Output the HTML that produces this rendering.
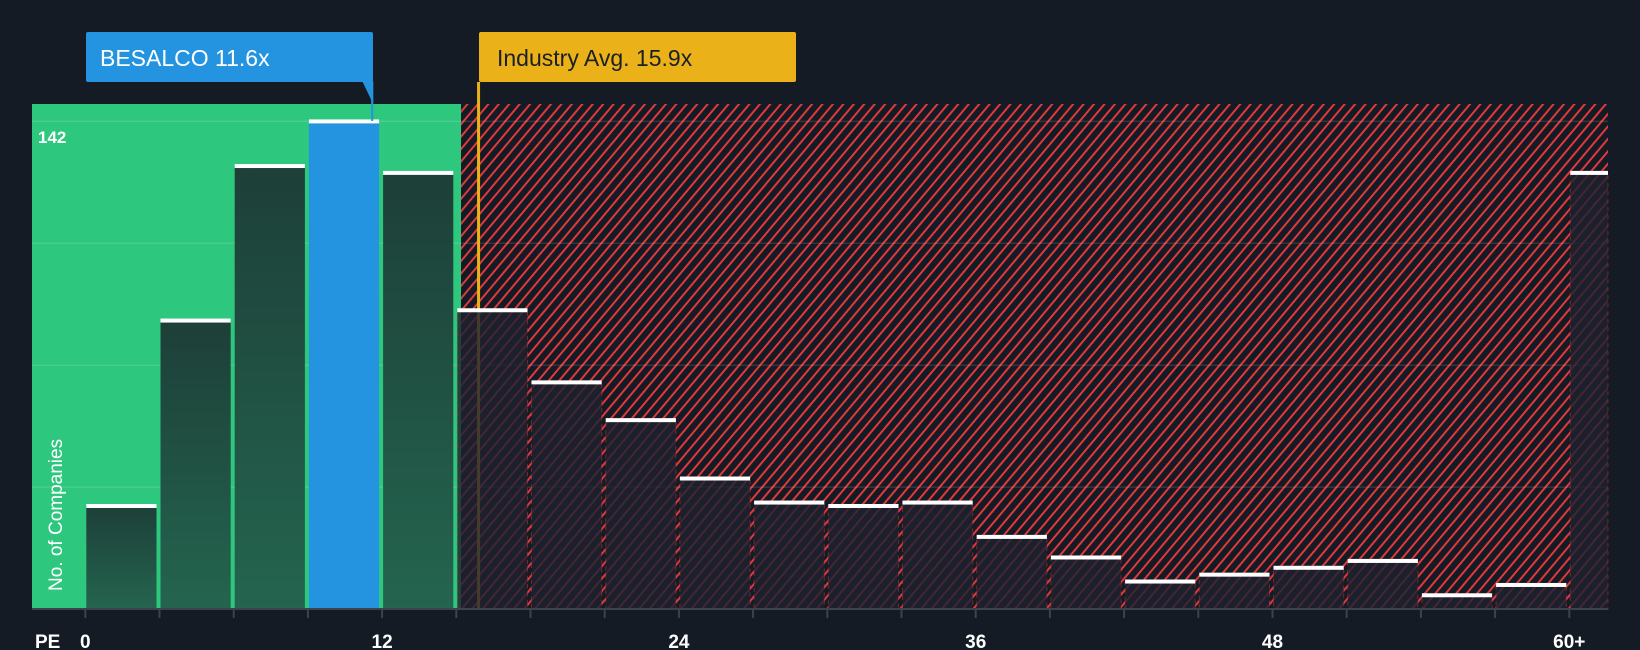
<!DOCTYPE html>
<html><head><meta charset="utf-8"><style>
body{margin:0;background:#151b24;}
svg{display:block;font-family:"Liberation Sans",sans-serif;}
</style></head><body>
<svg id="chart" width="1640" height="650" viewBox="0 0 1640 650">
<defs>
<pattern id="hatch" patternUnits="userSpaceOnUse" width="8" height="8" patternTransform="rotate(40)">
<rect width="8" height="8" fill="#151b24"/>
<rect x="0" y="0" width="2" height="8" fill="#e0383d"/>
</pattern>
<linearGradient id="gbar" x1="0" y1="0" x2="0" y2="1">
<stop offset="0" stop-color="#1d3f38"/><stop offset="1" stop-color="#24654f"/>
</linearGradient>
</defs>
<rect width="1640" height="650" fill="#151b24"/>
<rect x="32" y="104" width="429" height="505" fill="#2ec77e"/>
<rect x="461" y="104" width="1147" height="505" fill="url(#hatch)"/>
<g id="grid"></g>
<line id="indLine" y1="82" y2="609" stroke="#eab218" stroke-width="3"/>
<g id="bars"></g>
<line x1="32" y1="609" x2="1608" y2="609" stroke="#3b4350" stroke-width="2"/>
<g id="ticks"></g>
<text x="38" y="143" fill="#fff" font-size="17" font-weight="bold">142</text>
<text transform="translate(62,591) rotate(-90)" fill="#fff" font-size="19">No. of Companies</text>
<text x="35" y="648" fill="#fff" font-size="19" font-weight="bold">PE</text>
<g>
<rect x="86" y="32" width="287" height="50" rx="2" fill="#2493e0"/>
<path id="bpath" d="" fill="#2493e0"/>
<line id="bline" y1="82" y2="121" stroke="#2493e0" stroke-width="2"/>
<text x="100" y="66" fill="#fff" font-size="23">BESALCO 11.6x</text>
</g>
<g>
<rect x="479" y="32" width="317" height="50" rx="2" fill="#eab218"/>
<text x="497" y="66" fill="#1b1f26" font-size="23">Industry Avg. 15.9x</text>
</g>
</svg>
<script>
const counts=[30,84,129,142,127,87,66,55,38,31,30,31,21,15,8,10,12,14,4,7,127];
const tickLabels=["0","12","24","36","48","60+"];
const tickValues=[0,12,24,36,48,60];
const companyPE=11.6;
const industryPE=15.9;
const maxVal=142;
const gridVals=[35.5,71,106.5,142];
const NS="http://www.w3.org/2000/svg";
const x0=85.3,binW=74.2,base=609,ppu=487.6/142;
const xs=v=>x0+v/3*binW;
const ys=v=>base-v*ppu;
function mk(tag,attrs,parent){const e=document.createElementNS(NS,tag);for(const k in attrs)e.setAttribute(k,attrs[k]);parent.appendChild(e);return e;}
const grid=document.getElementById('grid');
gridVals.forEach(v=>{
 const l=mk('line',{x1:32,x2:1608,y1:ys(v),y2:ys(v),stroke:'rgba(255,255,255,0.12)','stroke-width':1.5},grid);
 
 
});
const bars=document.getElementById('bars');
counts.forEach((c,i)=>{
 const left=xs(i*3)+1;
 const w=i===20?(1608-left):binW-4;
 const y=ys(c);
 const inGreen=(i*3+3)<=15;
 const isCo=companyPE>=i*3&&companyPE<i*3+3;
 let fill=isCo?'#2493e0':(inGreen?'url(#gbar)':'rgba(30,34,48,0.82)');
 const r=mk('rect',{x:left,y:y,width:w,height:base-y,fill:fill},bars);
 
 
 if(!inGreen&&!isCo){
  const b=mk('rect',{x:left,y:y,width:w,height:base-y,fill:'none',stroke:'rgba(224,56,61,0.45)','stroke-dasharray':'4 4','stroke-width':1},bars);
  
  
 }
 const cap=mk('rect',{x:left,y:y-2,width:w,height:4,fill:'#fff'},bars);
 
 
});
const ticks=document.getElementById('ticks');
for(let i=0;i<=20;i++){
 const t=mk('line',{x1:xs(i*3),x2:xs(i*3),y1:609,y2:618,stroke:'#3b4350','stroke-width':2},ticks);
 
 
}
tickValues.forEach((v,i)=>{
 const t=mk('text',{x:xs(v),y:648,fill:'#fff','font-size':19,'text-anchor':'middle','font-weight':'bold'},ticks);
 t.textContent=tickLabels[i];
 
 
});
const ix=xs(industryPE);
const il=document.getElementById('indLine');il.setAttribute('x1',ix);il.setAttribute('x2',ix);
const cx=xs(companyPE);
const bl=document.getElementById('bline');bl.setAttribute('x1',cx);bl.setAttribute('x2',cx);
document.getElementById('bpath').setAttribute('d',`M${cx-10} 81 L${cx+1} 81 L${cx+1} 104 Z`);
</script>
</body></html>
